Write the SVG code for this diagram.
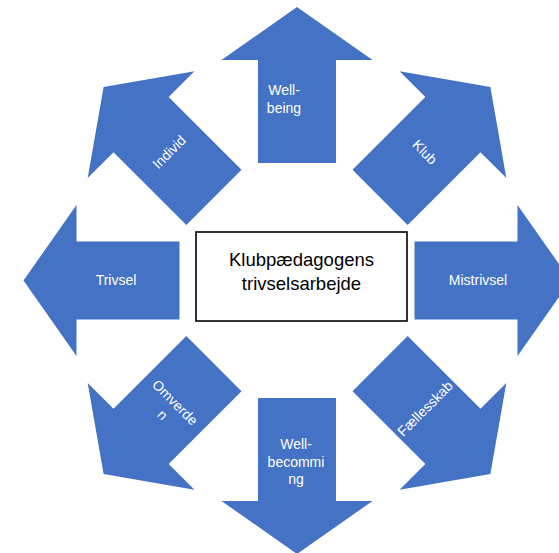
<svg xmlns="http://www.w3.org/2000/svg" width="559" height="553" viewBox="0 0 559 553">
<style>
.arr{fill:#4472C4;}
.lbl{font-family:"Liberation Sans",Arial,sans-serif;font-size:14px;fill:#FFFFFF;text-anchor:middle;}
.box{fill:#FFFFFF;stroke:#000000;stroke-width:1.6;}
.main{font-family:"Liberation Sans",Arial,sans-serif;font-size:18.5px;fill:#000000;text-anchor:middle;}
</style>
<defs>
<path id="arrow" d="M0,0 L75.5,53 L39,53 L39,156 L-39,156 L-39,53 L-75.5,53 Z"/>
</defs>
<rect width="559" height="553" fill="#FFFFFF"/>
<g id="wellbeing">
<use href="#arrow" class="arr" transform="translate(297,280.5) rotate(0) translate(0,-273.5)"/>
<text class="lbl" x="284" y="95">Well-</text>
<text class="lbl" x="284" y="113">being</text>
</g>
<g id="klub">
<use href="#arrow" class="arr" transform="translate(297,280.5) rotate(45) translate(0,-273.5)"/>
<text class="lbl" transform="translate(425,152) rotate(45)" x="0" y="5">Klub</text>
</g>
<g id="mistrivsel">
<use href="#arrow" class="arr" transform="translate(297,280.5) rotate(90) translate(0,-273.5)"/>
<text class="lbl" x="478" y="285">Mistrivsel</text>
</g>
<g id="faellesskab">
<use href="#arrow" class="arr" transform="translate(297,280.5) rotate(135) translate(0,-273.5)"/>
<text class="lbl" transform="translate(425,408.5) rotate(-45)" x="0" y="5">Fællesskab</text>
</g>
<g id="wellbecomming">
<use href="#arrow" class="arr" transform="translate(297,280.5) rotate(180) translate(0,-273.5)"/>
<text class="lbl" x="296" y="449">Well-</text>
<text class="lbl" x="296" y="467">becommi</text>
<text class="lbl" x="296" y="484">ng</text>
</g>
<g id="omverden">
<use href="#arrow" class="arr" transform="translate(297,280.5) rotate(225) translate(0,-273.5)"/>
<text class="lbl" transform="translate(169,408.5) rotate(45)" x="0" y="-3.75">Omverde</text>
<text class="lbl" transform="translate(169,408.5) rotate(45)" x="0" y="13.75">n</text>
</g>
<g id="trivsel">
<use href="#arrow" class="arr" transform="translate(297,280.5) rotate(270) translate(0,-273.5)"/>
<text class="lbl" x="116" y="285">Trivsel</text>
</g>
<g id="individ">
<use href="#arrow" class="arr" transform="translate(297,280.5) rotate(315) translate(0,-273.5)"/>
<text class="lbl" transform="translate(169,152) rotate(-45)" x="0" y="5">Individ</text>
</g>
<g id="center">
<rect class="box" x="196" y="232" width="211" height="89"/>
<text class="main" x="301.5" y="265.5">Klubpædagogens</text>
<text class="main" x="301.5" y="289.5">trivselsarbejde</text>
</g>
<g id="connectors"></g>
</svg>
